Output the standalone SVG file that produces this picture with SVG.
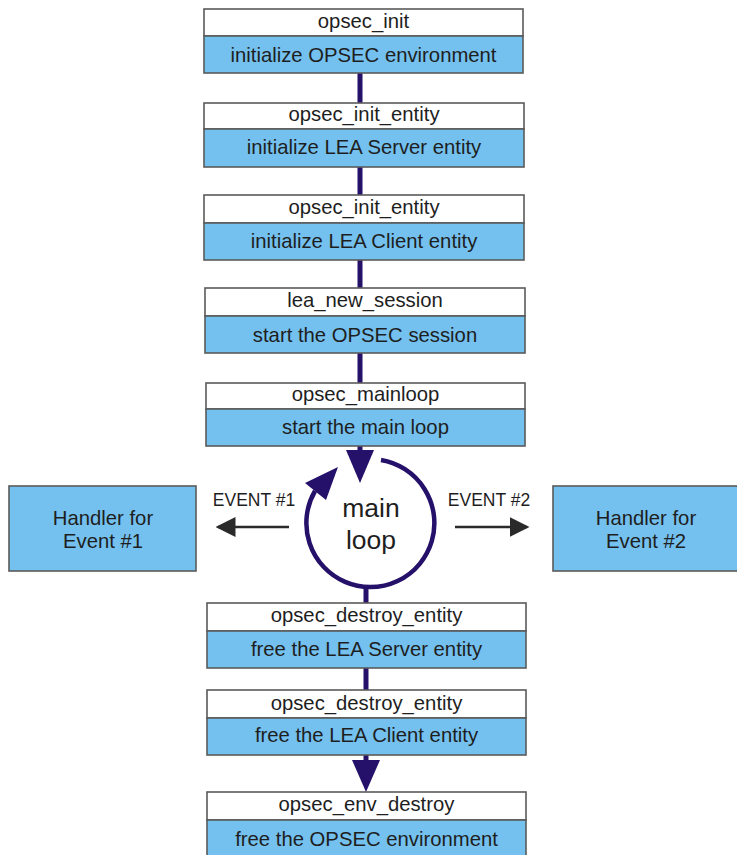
<svg xmlns="http://www.w3.org/2000/svg" width="737" height="855" viewBox="0 0 737 855">
<style>
.t{fill:#fff;stroke:#5a5a5a;stroke-width:1.6}
.b{fill:#74c1ef;stroke:#5a5a5a;stroke-width:1.6}
.tx{font-family:"Liberation Sans",Arial,sans-serif;font-size:20.3px;fill:#1e1e1e;text-anchor:middle}
.hx{font-family:"Liberation Sans",Arial,sans-serif;font-size:20.3px;fill:#1e1e1e;text-anchor:middle}
.ev{font-family:"Liberation Sans",Arial,sans-serif;font-size:17.5px;fill:#1e1e1e;text-anchor:middle}
.ml{font-family:"Liberation Sans",Arial,sans-serif;font-size:26.5px;fill:#1e1e1e;text-anchor:middle}
.c{stroke:#25106a;stroke-width:5;fill:none}
.cf{fill:#25106a}
.ea{stroke:#2a2a2a;stroke-width:2.5;fill:none}
</style>
<defs>
<marker id="ah" markerWidth="8" markerHeight="8" refX="7" refY="4" orient="auto" markerUnits="strokeWidth">
<path d="M0,0 L8,4 L0,8 Z" fill="#2a2a2a"/>
</marker>
</defs>
<rect width="737" height="855" fill="#fff"/>
<g id="connectors">
<line class="c" x1="360" y1="73" x2="360" y2="103"/>
<line class="c" x1="360" y1="167" x2="360" y2="195"/>
<line class="c" x1="360" y1="260" x2="360" y2="288"/>
<line class="c" x1="360" y1="353" x2="360" y2="383"/>
<line class="c" x1="360" y1="446" x2="360" y2="455"/>
<polygon class="cf" points="346,450 374,450 360,483"/>
<path d="M381,460 A64,64 0 1 1 315,491" stroke="#25106a" stroke-width="4.5" fill="none"/>
<polygon class="cf" points="338,467 305,483 326,500"/>
<line class="c" x1="366" y1="586" x2="366" y2="603"/>
<line class="c" x1="366" y1="668" x2="366" y2="690"/>
<line class="c" x1="366" y1="755" x2="366" y2="765"/>
<polygon class="cf" points="352,760 380,760 366,792"/>
<line class="ea" x1="289" y1="527" x2="218" y2="527" marker-end="url(#ah)"/>
<line class="ea" x1="455" y1="527" x2="527" y2="527" marker-end="url(#ah)"/>
</g>
<g id="mainloop">
<text class="ml" x="371" y="517">main</text>
<text class="ml" x="371" y="549">loop</text>
</g>
<g id="event1label"><text class="ev" x="254" y="506">EVENT #1</text></g>
<g id="event2label"><text class="ev" x="489" y="506">EVENT #2</text></g>
<g id="n1">
<rect class="t" x="204" y="9" width="319" height="27"/>
<rect class="b" x="204" y="36" width="319" height="37"/>
<text class="tx" x="363.5" y="28">opsec_init</text>
<text class="tx" x="363.5" y="62">initialize OPSEC environment</text>
</g>
<g id="n2">
<rect class="t" x="204" y="103" width="320" height="26"/>
<rect class="b" x="204" y="129" width="320" height="38"/>
<text class="tx" x="364" y="121">opsec_init_entity</text>
<text class="tx" x="364" y="154">initialize LEA Server entity</text>
</g>
<g id="n3">
<rect class="t" x="204" y="195" width="320" height="28"/>
<rect class="b" x="204" y="223" width="320" height="37"/>
<text class="tx" x="364" y="214">opsec_init_entity</text>
<text class="tx" x="364" y="248">initialize LEA Client entity</text>
</g>
<g id="n4">
<rect class="t" x="205" y="288" width="320" height="28"/>
<rect class="b" x="205" y="316" width="320" height="37"/>
<text class="tx" x="365" y="307">lea_new_session</text>
<text class="tx" x="365" y="342">start the OPSEC session</text>
</g>
<g id="n5">
<rect class="t" x="206" y="383" width="319" height="26"/>
<rect class="b" x="206" y="409" width="319" height="37"/>
<text class="tx" x="365.5" y="401">opsec_mainloop</text>
<text class="tx" x="365.5" y="434">start the main loop</text>
</g>
<g id="h1">
<rect class="b" x="9" y="486" width="187" height="85"/>
<text class="hx" x="103" y="525">Handler for</text>
<text class="hx" x="103" y="548">Event #1</text>
</g>
<g id="h2">
<rect class="b" x="553" y="486" width="190" height="85"/>
<text class="hx" x="646" y="525">Handler for</text>
<text class="hx" x="646" y="548">Event #2</text>
</g>
<g id="n6">
<rect class="t" x="207" y="603" width="319" height="28"/>
<rect class="b" x="207" y="631" width="319" height="37"/>
<text class="tx" x="366.5" y="622">opsec_destroy_entity</text>
<text class="tx" x="366.5" y="656">free the LEA Server entity</text>
</g>
<g id="n7">
<rect class="t" x="207" y="690" width="319" height="28"/>
<rect class="b" x="207" y="718" width="319" height="37"/>
<text class="tx" x="366.5" y="710">opsec_destroy_entity</text>
<text class="tx" x="366.5" y="742">free the LEA Client entity</text>
</g>
<g id="n8">
<rect class="t" x="207" y="792" width="319" height="28"/>
<rect class="b" x="207" y="820" width="319" height="40"/>
<text class="tx" x="366.5" y="811">opsec_env_destroy</text>
<text class="tx" x="366.5" y="846">free the OPSEC environment</text>
</g>
</svg>
